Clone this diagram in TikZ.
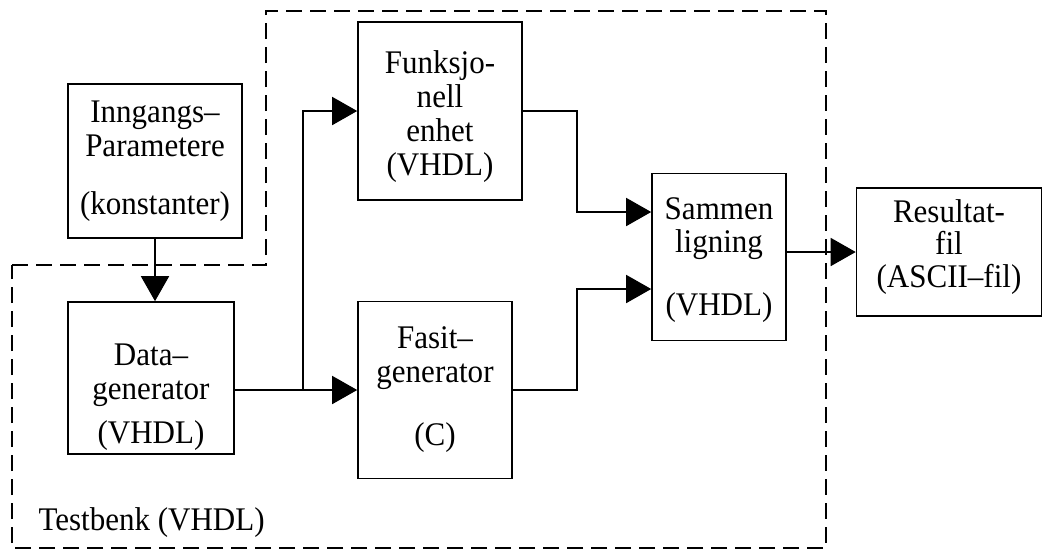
\documentclass[tikz,border=0pt]{standalone}
\usepackage{fontspec}
\setmainfont{Liberation Serif}[FakeStretch=0.94]
\usepackage{tikz}
\usetikzlibrary{
  arrows.meta,
  positioning,
  calc,
}
\newcommand\blockfont{\fontsize{33}{34}\selectfont\lineskiplimit-100pt\relax}

\begin{document}
\begin{tikzpicture}[
  x=1pt, y=-1pt,
  font=\blockfont,
  every node/.style={align=center},
  block/.style={draw=black, line width=1.6pt, inner sep=0pt},
  arrow/.style={-{Triangle[length=25pt, width=28pt]}, line width=1.6pt},
  bench/.style={line width=1.8pt, dash pattern=on 16pt off 8pt},
]
\useasboundingbox (0,0) rectangle (1046,550);

%% Testbench outline
\draw[bench] (12,265) -- (266,265) -- (266,11) -- (826,11) -- (826,548)
  -- (12,548) -- cycle;
\node[anchor=base west] (bench) at (35,530) {Testbenk (VHDL)};

%% Blocks
\node[block, minimum width=174pt, minimum height=154pt] (param) at (155,161)
  {Inngangs--\\Parametere\\[24pt](konstanter)};
\node[block, minimum width=166pt, minimum height=152pt] (datagen) at (151,378)
  {\rule{0pt}{60pt}Data--\\generator\\[10pt](VHDL)};
\node[block, minimum width=164pt, minimum height=178pt] (funk) at (440,111)
  {\rule{0pt}{35pt}Funksjo-\\nell\\enhet\\(VHDL)};
\node[block, minimum width=154pt, minimum height=177pt] (fasit) at (435,390)
  {Fasit--\\generator\\[29pt](C)};
\node[block, minimum width=134pt, minimum height=167pt] (compare) at (719,257)
  {\rule{0pt}{28pt}Sammen\\[-1pt]ligning\\[29pt](VHDL)};
\node[block, minimum width=185pt, minimum height=128pt] (result) at (949,252)
  {Resultat-\\[-2pt]fil\\[-1pt](ASCII--fil)\rule[-17pt]{0pt}{17pt}};

%% Connections
\coordinate (split) at (303,390);
\coordinate (turn) at (577,0);
\draw[arrow] (param.south) -- (param.south |- datagen.north);
\draw[arrow] (fasit.west -| datagen.east) -- (fasit.west);
\draw[arrow] (split) |- (funk.west);
\draw[arrow] (funk.east) -| ($(turn |- compare.west)+(0,-45)$)
  -- ([yshift=45pt]compare.west);
\draw[arrow] (fasit.east) -| ($(turn |- compare.west)+(0,32)$)
  -- ([yshift=-32pt]compare.west);
\draw[arrow] (result.west -| compare.east) -- (result.west);

\end{tikzpicture}
\end{document}
